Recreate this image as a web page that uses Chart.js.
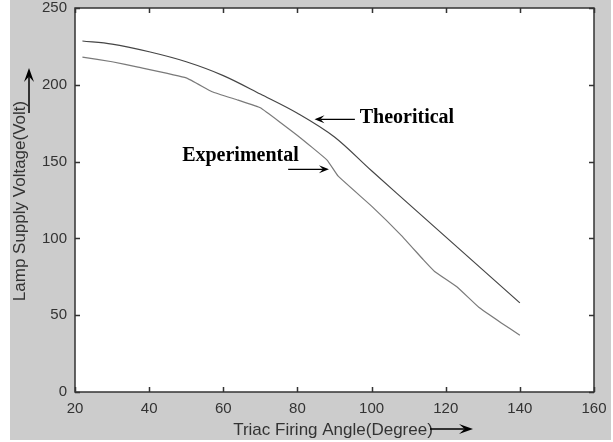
<!DOCTYPE html>
<html lang="en">
<head>
  <meta charset="UTF-8" />
  <title>Lamp Supply Voltage vs Triac Firing Angle</title>
  <script src="https://cdn.jsdelivr.net/npm/chart.js"></script>
  <style>
    body { margin: 0; background: #fff; }
    canvas { display: block; }
  </style>
</head>
<body>
  <canvas id="voltChart" width="613" height="442"></canvas>
  <script>
    // firing angle (deg) and lamp voltage (V)
    const theoAngle = [22, 30, 40, 50, 60, 70, 80, 90, 100, 110, 120, 130, 140];
    const theoVolt  = [228.5, 226.5, 221.5, 215, 206, 194, 181.5, 166, 144, 122.5, 101, 79.5, 58];

    const expAngle = [22, 30, 37, 50, 57, 64, 70, 80, 88, 91, 100, 108, 114, 117, 123, 129, 135, 140];
    const expVolt  = [218, 215, 211.5, 204.5, 195.5, 190, 185, 167, 151, 140.5, 121, 102, 86, 78.5, 68.5, 55, 45, 37];

    const xTicks = [20, 40, 60, 80, 100, 120, 140, 160];
    const yTicks = [0, 50, 100, 150, 200, 250];

    const toPoints = (xs, ys) => xs.map((x, i) => ({ x: x, y: ys[i] }));

    function arrow(ctx, x1, y1, x2, y2, len, half) {
      const ang = Math.atan2(y2 - y1, x2 - x1);
      const c = Math.cos(ang), s = Math.sin(ang);
      ctx.beginPath();
      ctx.moveTo(x1, y1);
      ctx.lineTo(x2 - c * len * 0.6, y2 - s * len * 0.6);
      ctx.stroke();
      ctx.beginPath();
      ctx.moveTo(x2, y2);
      ctx.lineTo(x2 - c * len - s * half, y2 - s * len + c * half);
      ctx.lineTo(x2 - c * len * 0.6, y2 - s * len * 0.6);
      ctx.lineTo(x2 - c * len + s * half, y2 - s * len - c * half);
      ctx.closePath();
      ctx.fill();
    }

    // grey figure background + white axes area
    const backdrop = {
      id: "backdrop",
      beforeDraw(chart) {
        const { ctx, chartArea: a } = chart;
        ctx.save();
        ctx.fillStyle = "#ffffff";
        ctx.fillRect(0, 0, chart.width, chart.height);
        ctx.fillStyle = "#cccccc";
        ctx.fillRect(10, 0, 601, 440);
        ctx.fillStyle = "#ffffff";
        ctx.fillRect(a.left, a.top, a.right - a.left, a.bottom - a.top);
        ctx.restore();
      }
    };

    // box, inward ticks, titles and annotations
    const decorations = {
      id: "decorations",
      afterDraw(chart) {
        const { ctx, chartArea: a, scales } = chart;
        const xs = scales.x, ys = scales.y;
        ctx.save();
        ctx.strokeStyle = "#333333";
        ctx.lineWidth = 1.5;
        ctx.strokeRect(a.left, a.top, a.right - a.left, a.bottom - a.top);
        ctx.beginPath();
        xTicks.forEach(v => {
          const px = Math.round(xs.getPixelForValue(v)) + 0.5;
          ctx.moveTo(px, a.bottom); ctx.lineTo(px, a.bottom - 5);
          ctx.moveTo(px, a.top); ctx.lineTo(px, a.top + 5);
        });
        yTicks.forEach(v => {
          const py = Math.round(ys.getPixelForValue(v)) + 0.5;
          ctx.moveTo(a.left, py); ctx.lineTo(a.left + 5, py);
          ctx.moveTo(a.right, py); ctx.lineTo(a.right - 5, py);
        });
        ctx.stroke();

        // axis titles
        ctx.fillStyle = "#333333";
        ctx.font = "17px 'Liberation Sans', Arial, sans-serif";
        ctx.textAlign = "center";
        ctx.textBaseline = "middle";
        ctx.fillText("Triac Firing Angle(Degree)", 333, 430);
        ctx.save();
        ctx.translate(20, 201);
        ctx.rotate(-Math.PI / 2);
        ctx.fillText("Lamp Supply Voltage(Volt)", 0, 0);
        ctx.restore();

        ctx.strokeStyle = "#000000";
        ctx.fillStyle = "#000000";
        ctx.lineWidth = 1.5;
        arrow(ctx, 430, 429, 473, 429, 14, 5);
        arrow(ctx, 29, 113, 29, 68, 14, 5);

        // annotations anchored in data coordinates
        ctx.font = "bold 20px 'Liberation Serif', 'Times New Roman', serif";
        ctx.textAlign = "left";
        ctx.textBaseline = "middle";
        ctx.fillText("Theoritical", xs.getPixelForValue(96.8), ys.getPixelForValue(178.5));
        ctx.fillText("Experimental", xs.getPixelForValue(48.9), ys.getPixelForValue(153.5));
        ctx.lineWidth = 1.3;
        arrow(ctx, xs.getPixelForValue(95.5), ys.getPixelForValue(177.5),
                   xs.getPixelForValue(84.6), ys.getPixelForValue(177.5), 10, 4);
        arrow(ctx, xs.getPixelForValue(77.5), ys.getPixelForValue(145),
                   xs.getPixelForValue(88.5), ys.getPixelForValue(145), 10, 4);
        ctx.restore();
      }
    };

    const ctx = document.getElementById("voltChart").getContext("2d");
    new Chart(ctx, {
      type: "line",
      data: {
        datasets: [
          {
            label: "Theoritical",
            data: toPoints(theoAngle, theoVolt),
            borderColor: "#454545",
            borderWidth: 1.2,
            pointRadius: 0,
            cubicInterpolationMode: "monotone"
          },
          {
            label: "Experimental",
            data: toPoints(expAngle, expVolt),
            borderColor: "#7a7a7a",
            borderWidth: 1.2,
            pointRadius: 0,
            tension: 0.1
          }
        ]
      },
      options: {
        responsive: false,
        animation: false,
        layout: { padding: { top: 8, right: 19, left: 0, bottom: 0 } },
        plugins: { legend: { display: false }, tooltip: { enabled: false } },
        scales: {
          x: {
            type: "linear",
            min: 20, max: 160,
            afterFit: s => { s.height = 50; s.paddingLeft = 0; s.paddingRight = 0; },
            afterBuildTicks: s => { s.ticks = xTicks.map(v => ({ value: v })); },
            grid: { display: false, drawTicks: false },
            border: { display: false },
            ticks: {
              padding: 8,
              color: "#333333",
              font: { family: "'Liberation Sans', Arial, sans-serif", size: 15 }
            }
          },
          y: {
            min: 0, max: 250,
            afterFit: s => { s.width = 75; s.paddingTop = 0; s.paddingBottom = 0; },
            afterBuildTicks: s => { s.ticks = yTicks.map(v => ({ value: v })); },
            grid: { display: false, drawTicks: false },
            border: { display: false },
            ticks: {
              padding: 8,
              color: "#333333",
              font: { family: "'Liberation Sans', Arial, sans-serif", size: 15 }
            }
          }
        }
      },
      plugins: [backdrop, decorations]
    });
  </script>
</body>
</html>
